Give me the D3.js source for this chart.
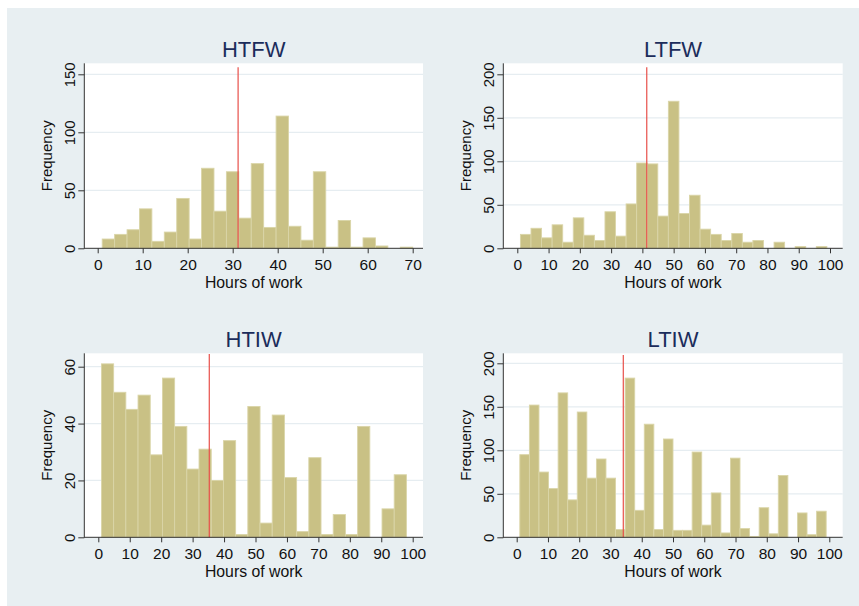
<!DOCTYPE html>
<html>
<head>
<meta charset="utf-8">
<script src="https://cdn.jsdelivr.net/npm/d3@7"></script>
<style>
  html, body { margin: 0; padding: 0; background: #ffffff; }
  svg { display: block; font-family: "Liberation Sans", Arial, Helvetica, sans-serif; }
</style>
</head>
<body>
<svg id="chart" width="859" height="606"></svg>
<script>
// ---------------- DATA ----------------
const panelTitles = ["HTFW", "LTFW", "HTIW", "LTIW"];
const xAxisTitle = "Hours of work";
const yAxisTitle = "Frequency";

// Histogram bin counts
const htfwCounts = [8, 12, 16, 34, 6, 14, 43, 8, 69, 32, 66, 26, 73, 18, 114, 19, 7, 66, 1, 24, 1, 9, 2, 0, 1];
const ltfwCounts = [16, 23, 12, 27, 7, 35, 15, 9, 42, 14, 51, 98, 97, 37, 169, 40, 61, 22, 16, 9, 17, 7, 9, 0, 7, 0, 2, 0, 2];
const htiwCounts = [61, 51, 45, 50, 29, 56, 39, 24, 31, 20, 34, 1, 46, 5, 43, 21, 2, 28, 1, 8, 1, 39, 0, 10, 22];
const ltiwCounts = [95, 152, 75, 56, 166, 43, 144, 68, 90, 68, 9, 183, 31, 130, 9, 113, 8, 8, 98, 14, 51, 5, 91, 10, 1, 34, 4, 71, 0, 28, 3, 30];

// Histogram ranges [min, max] of hours
const htfwRange = [1, 70];
const ltfwRange = [1, 99];
const htiwRange = [1, 98];
const ltiwRange = [1, 99];

// Mean hours (red vertical line)
const meanHours = [31.2, 41.4, 35.3, 34.1];

// Tick values
const htfwXTicks = [0, 10, 20, 30, 40, 50, 60, 70];
const xTicks100 = [0, 10, 20, 30, 40, 50, 60, 70, 80, 90, 100];
const htfwYTicks = [0, 50, 100, 150];
const ltfwYTicks = [0, 50, 100, 150, 200];
const htiwYTicks = [0, 20, 40, 60];
const ltiwYTicks = [0, 50, 100, 150, 200];

// ---------------- LAYOUT / STYLE ----------------
const COL = {
  bg: "#e8eff2",
  plot: "#ffffff",
  grid: "#e6edf1",
  bar: "#c9c185",
  barEdge: "#dad5a8",
  mean: "#e8504a",
  axis: "#333333",
  title: "#1b2c5b",
  text: "#111111"
};
const FONT = "Liberation Sans, Arial, Helvetica, sans-serif";

const layouts = [
  { left: 84.3, right: 423, top: 63.3, bottom: 248.3, xr: [97.7, 412.7], xd: [0, 70], yd: [0, 150], yTopPx: 74.3, titleY: 57, xTitleY: 287.5, yTitleX: 52, lineTop: 67.3 },
  { left: 503.3, right: 842.7, top: 63.3, bottom: 248.3, xr: [517.3, 830], xd: [0, 100], yd: [0, 200], yTopPx: 74.3, titleY: 57, xTitleY: 287.5, yTitleX: 471, lineTop: 67.3 },
  { left: 84.3, right: 423, top: 353.3, bottom: 537.3, xr: [98.3, 412.7], xd: [0, 100], yd: [0, 60], yTopPx: 366.7, titleY: 347, xTitleY: 577, yTitleX: 52, lineTop: 354 },
  { left: 503.3, right: 842.7, top: 353.3, bottom: 537.3, xr: [516.7, 829.3], xd: [0, 100], yd: [0, 200], yTopPx: 363.3, titleY: 347, xTitleY: 577, yTitleX: 471, lineTop: 355 }
];

const panels = [
  { title: panelTitles[0], counts: htfwCounts, range: htfwRange, mean: meanHours[0], xTicks: htfwXTicks, yTicks: htfwYTicks },
  { title: panelTitles[1], counts: ltfwCounts, range: ltfwRange, mean: meanHours[1], xTicks: xTicks100, yTicks: ltfwYTicks },
  { title: panelTitles[2], counts: htiwCounts, range: htiwRange, mean: meanHours[2], xTicks: xTicks100, yTicks: htiwYTicks },
  { title: panelTitles[3], counts: ltiwCounts, range: ltiwRange, mean: meanHours[3], xTicks: xTicks100, yTicks: ltiwYTicks }
];

const svg = d3.select("#chart");
svg.append("rect").attr("x", 7).attr("y", 8).attr("width", 852).attr("height", 598).attr("fill", COL.bg);

panels.forEach((p, i) => {
  const L = layouts[i];
  const x = d3.scaleLinear().domain(L.xd).range(L.xr);
  const y = d3.scaleLinear().domain(L.yd).range([L.bottom, L.yTopPx]);
  const g = svg.append("g");

  // plot region
  g.append("rect").attr("x", L.left).attr("y", L.top)
    .attr("width", L.right - L.left).attr("height", L.bottom - L.top)
    .attr("fill", COL.plot);

  // gridlines
  g.selectAll(".grid").data(p.yTicks.filter(d => d > 0)).join("line")
    .attr("x1", L.left).attr("x2", L.right)
    .attr("y1", d => y(d)).attr("y2", d => y(d))
    .attr("stroke", COL.grid).attr("stroke-width", 1.2);

  // bins
  const n = p.counts.length;
  const w = (p.range[1] - p.range[0]) / n;
  const bins = p.counts.map((c, k) => ({ x0: p.range[0] + k * w, x1: p.range[0] + (k + 1) * w, c }));

  g.selectAll(".bar").data(bins.filter(b => b.c > 0)).join("rect")
    .attr("x", b => x(b.x0)).attr("width", b => x(b.x1) - x(b.x0))
    .attr("y", b => y(b.c)).attr("height", b => y(0) - y(b.c))
    .attr("fill", COL.bar).attr("stroke", COL.barEdge).attr("stroke-width", 0.9);

  // mean line
  g.append("line")
    .attr("x1", x(p.mean)).attr("x2", x(p.mean))
    .attr("y1", L.lineTop).attr("y2", y(0))
    .attr("stroke", COL.mean).attr("stroke-width", 1.2);

  // axes lines
  g.append("line").attr("x1", L.left).attr("x2", L.left).attr("y1", L.top).attr("y2", L.bottom + 0.5)
    .attr("stroke", COL.axis).attr("stroke-width", 1);
  g.append("line").attr("x1", L.left).attr("x2", L.right).attr("y1", L.bottom).attr("y2", L.bottom)
    .attr("stroke", COL.axis).attr("stroke-width", 1);

  // x axis
  const xAxis = d3.axisBottom(x).tickValues(p.xTicks).tickSize(5).tickFormat(d3.format("d"));
  const gx = g.append("g").attr("transform", `translate(0,${L.bottom})`).call(xAxis);
  gx.select(".domain").remove();
  gx.selectAll(".tick line").attr("stroke", COL.axis);
  gx.selectAll(".tick text").attr("y", 22).attr("dy", 0)
    .attr("font-size", 15.5).attr("fill", COL.text)
    .attr("font-family", FONT);

  // y axis
  const yAxis = d3.axisLeft(y).tickValues(p.yTicks).tickSize(6).tickFormat(d3.format("d"));
  const gy = g.append("g").attr("transform", `translate(${L.left},0)`).call(yAxis);
  gy.select(".domain").remove();
  gy.selectAll(".tick line").attr("stroke", COL.axis);
  gy.selectAll(".tick text").attr("transform", "rotate(-90)")
    .attr("x", 0).attr("y", -9.5).attr("dy", 0)
    .attr("text-anchor", "middle")
    .attr("font-size", 15).attr("fill", COL.text)
    .attr("font-family", FONT);

  // titles
  g.append("text").attr("x", (L.left + L.right) / 2).attr("y", L.titleY)
    .attr("text-anchor", "middle").attr("font-size", 22).attr("fill", COL.title)
    .text(p.title);
  g.append("text").attr("x", (L.left + L.right) / 2).attr("y", L.xTitleY)
    .attr("text-anchor", "middle").attr("font-size", 15.8).attr("fill", COL.text)
    .text(xAxisTitle);
  g.append("text")
    .attr("transform", `translate(${L.yTitleX},${(L.top + L.bottom) / 2}) rotate(-90)`)
    .attr("text-anchor", "middle").attr("font-size", 15).attr("fill", COL.text)
    .text(yAxisTitle);
});
</script>
</body>
</html>
